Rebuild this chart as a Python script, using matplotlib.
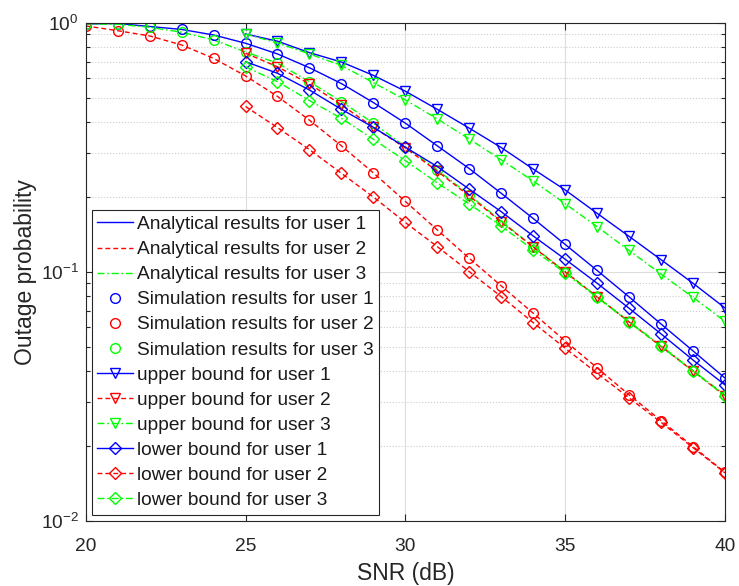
import matplotlib
matplotlib.use("Agg")
import matplotlib.pyplot as plt
from matplotlib.ticker import LogLocator, NullFormatter

plt.rcParams['font.family'] = ['Liberation Sans', 'DejaVu Sans']
plt.rcParams['mathtext.fontset'] = 'custom'
plt.rcParams['mathtext.rm'] = 'Liberation Sans'
plt.rcParams['mathtext.it'] = 'Liberation Sans:italic'

# SNR grid (dB)
snr_full = list(range(20, 41))
snr_bound = list(range(25, 41))

# Analytical / simulated outage probability, SNR = 20..40 dB
user1_out = [0.991, 0.995, 0.968, 0.942, 0.895, 0.829, 0.751, 0.661, 0.571, 0.479,
             0.396, 0.321, 0.260, 0.207, 0.164, 0.129, 0.1014, 0.0794, 0.0618, 0.0482, 0.0375]
user2_out = [0.973, 0.931, 0.887, 0.816, 0.721, 0.613, 0.507, 0.407, 0.321, 0.250,
             0.192, 0.1475, 0.1135, 0.0879, 0.0683, 0.0528, 0.0412, 0.0321, 0.0253, 0.0199, 0.01566]
user3_out = [0.991, 0.988, 0.961, 0.918, 0.855, 0.765, 0.689, 0.581, 0.483, 0.396,
             0.318, 0.257, 0.204, 0.160, 0.1264, 0.1003, 0.0796, 0.0632, 0.0506, 0.0401, 0.0321]

# Upper bounds, SNR = 25..40 dB
user1_upper = [0.903, 0.845, 0.760, 0.697, 0.616, 0.532, 0.450, 0.378, 0.316, 0.259,
               0.2135, 0.172, 0.139, 0.112, 0.0901, 0.0717]
user2_upper = [0.756, 0.667, 0.569, 0.469, 0.381, 0.315, 0.254, 0.202, 0.159, 0.126,
               0.100, 0.0794, 0.0630, 0.0502, 0.0400, 0.0318]
user3_upper = [0.903, 0.831, 0.751, 0.675, 0.576, 0.491, 0.412, 0.342, 0.282, 0.232,
               0.188, 0.152, 0.122, 0.0981, 0.0791, 0.0633]

# Lower bounds, SNR = 25..40 dB
user1_lower = [0.699, 0.628, 0.538, 0.450, 0.381, 0.317, 0.265, 0.215, 0.1746, 0.1395,
               0.1125, 0.0901, 0.0715, 0.0564, 0.0443, 0.0352]
user2_lower = [0.462, 0.380, 0.310, 0.249, 0.200, 0.158, 0.1264, 0.1003, 0.0796, 0.0626,
               0.0494, 0.0392, 0.0312, 0.0249, 0.0197, 0.0156]
user3_lower = [0.667, 0.581, 0.488, 0.414, 0.341, 0.280, 0.228, 0.1875, 0.153, 0.1226,
               0.0991, 0.0790, 0.0630, 0.0502, 0.0400, 0.0318]

legend_labels = [
    'Analytical results for user 1', 'Analytical results for user 2', 'Analytical results for user 3',
    'Simulation results for user 1', 'Simulation results for user 2', 'Simulation results for user 3',
    'upper bound for user 1', 'upper bound for user 2', 'upper bound for user 3',
    'lower bound for user 1', 'lower bound for user 2', 'lower bound for user 3',
]

colors = ['#0000ff', '#ff0000', '#00ff00']
styles = ['-', (0, (3.5, 2.2)), (0, (5, 2, 1.2, 2))]
lw = 1.0
ms = 7

fig = plt.figure(figsize=(7.39, 5.86), dpi=100)
ax = fig.add_axes([0.116, 0.111, 0.865, 0.8498])

out = [user1_out, user2_out, user3_out]
upper = [user1_upper, user2_upper, user3_upper]
lower = [user1_lower, user2_lower, user3_lower]

for i in range(3):
    ax.plot(snr_full, out[i], linestyle=styles[i], color=colors[i], lw=lw,
            label=legend_labels[i])
for i in range(3):
    ax.plot(snr_full, out[i], linestyle='none', marker='o', ms=ms, mfc='none',
            mec=colors[i], mew=1.0, label=legend_labels[3 + i])
for i in range(3):
    ax.plot(snr_bound, upper[i], linestyle=styles[i], color=colors[i], lw=lw,
            marker='v', ms=ms, mfc='none', mec=colors[i], mew=1.0,
            label=legend_labels[6 + i])
for i in range(3):
    ax.plot(snr_bound, lower[i], linestyle=styles[i], color=colors[i], lw=lw,
            marker='D', ms=ms - 1, mfc='none', mec=colors[i], mew=1.0,
            label=legend_labels[9 + i])

ax.set_yscale('log')
ax.set_xlim(20, 40)
ax.set_ylim(1e-2, 1)
ax.set_xticks([20, 25, 30, 35, 40])
ax.yaxis.set_major_locator(LogLocator(base=10, numticks=5))
ax.yaxis.set_minor_locator(LogLocator(base=10, subs=range(2, 10), numticks=20))
ax.yaxis.set_minor_formatter(NullFormatter())

text_color = '#262626'
ax.tick_params(axis='both', which='both', direction='in', top=True, right=True,
               colors=text_color, labelsize=13.8, width=0.8)
ax.tick_params(axis='both', which='major', length=5)
ax.tick_params(axis='x', which='major', pad=12)
ax.tick_params(axis='y', which='major', pad=5)
ax.tick_params(axis='y', which='minor', length=3)
for sp in ax.spines.values():
    sp.set_color(text_color)
    sp.set_linewidth(0.8)

ax.grid(True, which='major', color='#dddddd', linestyle='-', lw=0.8)
ax.grid(True, which='minor', axis='y', color='#cccccc', linestyle=':', lw=0.8)
ax.set_axisbelow(True)

ax.set_xlabel('SNR (dB)', fontsize=16.5, color=text_color, labelpad=5)
ax.set_ylabel('Outage probability', fontsize=16.5, color=text_color, labelpad=3)

leg = ax.legend(loc='upper left', bbox_to_anchor=(0.0094, 0.6245), borderaxespad=0,
                fontsize=13.8, frameon=True, fancybox=False, framealpha=1,
                edgecolor='#262626', handlelength=1.85, handletextpad=0.2,
                labelspacing=0.4, borderpad=0.3)
leg.get_frame().set_linewidth(0.8)
for t in leg.get_texts():
    t.set_color('#1a1a1a')

fig.savefig('out.png', dpi=100)
